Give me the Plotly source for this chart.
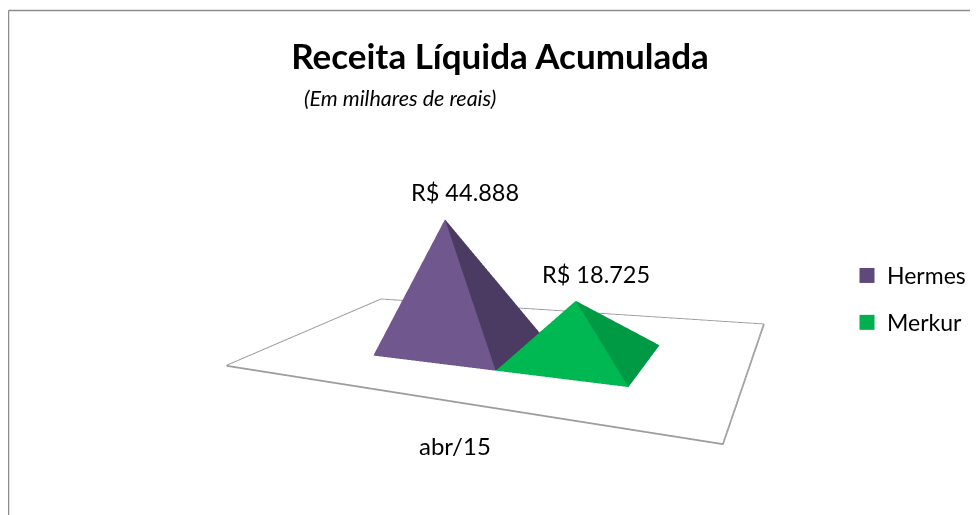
import plotly.graph_objects as go

# --- data ---
categories = ["abr/15"]
series_names = ["Hermes", "Merkur"]
series_values = [44888, 18725]
series_labels = ["R$ 44.888", "R$ 18.725"]
title_text = "Receita Líquida Acumulada"
subtitle_text = "(Em milhares de reais)"

# --- styles ---
legend_colors = ["#5f497a", "#00b050"]
front_colors = ["#70588f", "#00b852"]
right_colors = ["#4b3a62", "#009a44"]
back_colors = ["#3c2e4f", "#006b30"]
FLOOR_LINE = "#9c9c9c"
FONT = "Lato"
Z_MAX = 50000
SLOTS = [(0.2859, 0.5786), (0.5786, 0.8304)]
Y0, Y1 = 0.2703, 0.6686
W, H = 970, 507  # page body margin of 8 px completes the 978x515 window

fig = go.Figure()

# floor
fx, fy = [0, 1, 1, 0], [0, 0, 1, 1]
fig.add_trace(go.Mesh3d(x=fx, y=fy, z=[0] * 4, i=[0, 0], j=[1, 2], k=[2, 3],
                        color="white", hoverinfo="skip", showlegend=False,
                        lighting=dict(ambient=1, diffuse=0, specular=0, fresnel=0)))
fig.add_trace(go.Scatter3d(x=fx + fx[:1], y=fy + fy[:1], z=[0] * 5, mode="lines",
                           line=dict(color=FLOOR_LINE, width=3.5), hoverinfo="skip", showlegend=False))

# pyramids
for n in range(len(series_names)):
    x0, x1 = SLOTS[n]
    v = series_values[n]
    fig.add_trace(go.Mesh3d(
        x=[x0, x1, x1, x0, (x0 + x1) / 2],
        y=[Y0, Y0, Y1, Y1, (Y0 + Y1) / 2],
        z=[0, 0, 0, 0, v],
        i=[0, 1, 2, 3], j=[1, 2, 3, 0], k=[4, 4, 4, 4],
        facecolor=[front_colors[n], right_colors[n], back_colors[n], back_colors[n]],
        flatshading=True, showlegend=False,
        lighting=dict(ambient=1, diffuse=0, specular=0, fresnel=0),
    ))
    fig.add_trace(go.Scatter3d(x=[None], y=[None], z=[None], mode="markers", name=series_names[n],
                               legendgroup=series_names[n],
                               marker=dict(symbol="square", size=15, color=legend_colors[n])))

annots = [dict(x=(SLOTS[n][0] + SLOTS[n][1]) / 2, y=(Y0 + Y1) / 2, z=series_values[n],
               text=series_labels[n], showarrow=False, xshift=20, yshift=27,
               font=dict(family=FONT, size=23.5, color="#000000")) for n in range(2)]
annots.append(dict(x=0.5, y=0, z=0, text=categories[0], showarrow=False, xshift=38, yshift=-50,
                   font=dict(family=FONT, size=24, color="#000000")))

hidden = dict(visible=False, showgrid=False, zeroline=False, showticklabels=False, showspikes=False)
fig.update_layout(
    width=W, height=H, margin=dict(l=0, r=0, t=0, b=0),
    paper_bgcolor="white", font=dict(family=FONT, color="#000000"),
    title=dict(text="<b>" + title_text + "</b>", x=492 / W, xanchor="center", y=1 - 49 / H, yanchor="middle",
               font=dict(family=FONT, size=35, color="#000000")),
    scene=dict(
        domain=dict(x=[0, 1], y=[0, 1]),
        dragmode="orbit",
        xaxis=dict(range=[0, 1], **hidden), yaxis=dict(range=[0, 1], **hidden),
        zaxis=dict(range=[0, Z_MAX], **hidden),
        aspectmode="manual", aspectratio=dict(x=1.5879, y=0.8210, z=0.4765),
        camera=dict(eye=dict(x=0.9936, y=-1.6542, z=0.4422), center=dict(x=0.0413, y=0, z=0.0479),
                    up=dict(x=0.1032, y=0, z=1)),
        bgcolor="white", annotations=annots,
    ),
    legend=dict(x=839 / W, y=1 - 246 / H, xanchor="left", yanchor="top",
                font=dict(family=FONT, size=23, color="#000000"), tracegroupgap=14, bgcolor="rgba(0,0,0,0)"),
    annotations=[dict(xref="paper", yref="paper", x=392 / W, y=1 - 90 / H, text="<i>" + subtitle_text + "</i>",
                      showarrow=False, xanchor="center", yanchor="middle",
                      font=dict(family=FONT, size=21.5, color="#000000"))],
    shapes=[dict(type="line", xref="paper", yref="paper", x0=0.5 / W, x1=0.5 / W, y0=0, y1=1 - 2.5 / H,
                 line=dict(color="#8c8c8c", width=1.5)),
            dict(type="line", xref="paper", yref="paper", x0=0.5 / W, x1=1, y0=1 - 2.5 / H, y1=1 - 2.5 / H,
                 line=dict(color="#8c8c8c", width=1.5))],
)
fig.write_html("out.html")
